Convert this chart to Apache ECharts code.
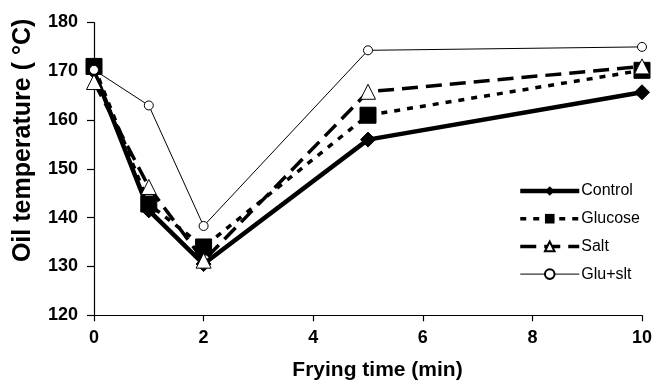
<!DOCTYPE html>
<html>
<head>
<meta charset="utf-8">
<script src="https://cdn.jsdelivr.net/npm/echarts@6/dist/echarts.min.js"></script>
<style>
html,body{margin:0;padding:0;background:#fff;}
#chart{width:654px;height:381px;}
</style>
</head>
<body>
<div id="chart"></div>
<script>
var times = [0, 1, 2, 5, 10];
var seriesNames = ['Control', 'Glucose', 'Salt', 'Glu+slt'];
var control = [170, 141.5, 130.5, 156, 165.7];
var glucose = [171, 142.8, 134, 161, 170.2];
var salt = [167.8, 146.3, 131.2, 165.8, 171];
var gluSlt = [170.3, 163, 138.3, 174.3, 175];
var xTicks = [0, 2, 4, 6, 8, 10];
var yTicks = [120, 130, 140, 150, 160, 170, 180];

function pairs(vals) { return times.map(function (t, i) { return [t, vals[i]]; }); }

var font = 'Liberation Sans, Arial, Helvetica, sans-serif';
var lineWidths = [4.5, 3.5, 3.5, 1];
var chart = echarts.init(document.getElementById('chart'), null, {renderer: 'canvas'});
chart.setOption({
  animation: false,
  backgroundColor: '#fff',
  grid: {left: 94, right: 12, top: 22.5, bottom: 65.7, containLabel: false, outerBoundsMode: 'none'},
  xAxis: {
    type: 'value', min: xTicks[0], max: xTicks[xTicks.length - 1], interval: 2,
    name: 'Frying time (min)', nameLocation: 'middle', nameGap: 44,
    nameTextStyle: {fontFamily: font, fontWeight: 'bold', fontSize: 21, color: '#000', padding: [0, 0, 0, 19]},
    axisLine: {lineStyle: {color: '#000', width: 1.2}},
    axisTick: {show: true, length: 6, lineStyle: {color: '#000', width: 1.2}},
    axisLabel: {fontFamily: font, fontWeight: 'bold', fontSize: 18, color: '#000', margin: 14},
    splitLine: {show: false}
  },
  yAxis: {
    type: 'value', min: yTicks[0], max: yTicks[yTicks.length - 1], interval: 10,
    name: 'Oil temperature ( °C)', nameLocation: 'middle', nameGap: 58, nameRotate: 90,
    nameTextStyle: {fontFamily: font, fontWeight: 'bold', fontSize: 25, color: '#000', padding: [0, 0, 0, 57]},
    axisLine: {show: true, lineStyle: {color: '#000', width: 1.2}},
    axisTick: {show: true, length: 7, lineStyle: {color: '#000', width: 1.2}},
    axisLabel: {fontFamily: font, fontWeight: 'bold', fontSize: 18, color: '#000', margin: 16},
    splitLine: {show: false}
  },
  legend: {
    orient: 'vertical', left: 518, top: 182, padding: 0,
    itemWidth: 59, itemHeight: 12, itemGap: 9.7,
    textStyle: {fontFamily: font, fontSize: 16, lineHeight: 18, color: '#000', padding: [0, 0, 0, -3]},
    data: seriesNames.map(function (n, i) { return {name: n, lineStyle: {width: lineWidths[i]}}; })
  },
  series: [
    {name: seriesNames[0], type: 'line', data: pairs(control), symbol: 'diamond', symbolSize: 15,
      lineStyle: {color: '#000', width: lineWidths[0], type: 'solid'}, itemStyle: {color: '#000', borderColor: '#000'}, z: 4},
    {name: seriesNames[1], type: 'line', data: pairs(glucose), symbol: 'rect', symbolSize: 16,
      lineStyle: {color: '#000', width: lineWidths[1], type: [6, 7]}, itemStyle: {color: '#000', borderColor: '#000'}, z: 3},
    {name: seriesNames[2], type: 'line', data: pairs(salt), symbol: 'triangle', symbolSize: 15,
      lineStyle: {color: '#000', width: lineWidths[2], type: [16, 8]}, itemStyle: {color: '#fff', borderColor: '#000', borderWidth: 1}, z: 5},
    {name: seriesNames[3], type: 'line', data: pairs(gluSlt), symbol: 'circle', symbolSize: 9,
      lineStyle: {color: '#000', width: lineWidths[3]}, itemStyle: {color: '#fff', borderColor: '#000', borderWidth: 1}, z: 6}
  ]
});
</script>
</body>
</html>
